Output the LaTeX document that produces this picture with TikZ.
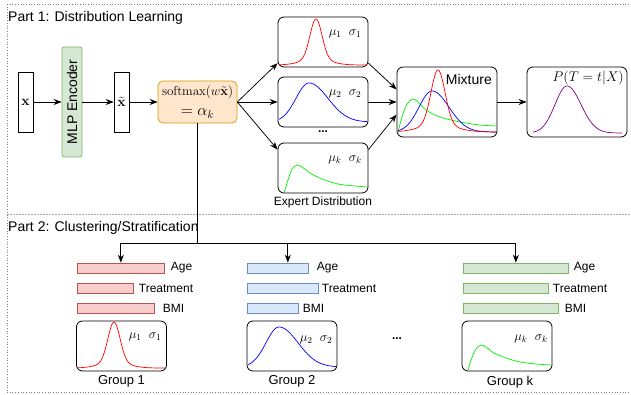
\RequirePackage{fix-cm}
\documentclass[tikz,border=0pt]{standalone}
\usepackage{amsmath}
\usepackage[no-math]{fontspec}
\setmainfont{Liberation Sans}
\usepackage{tikz}
\usetikzlibrary{positioning,arrows.meta}
\usepackage{xcolor}

\definecolor{encfill}{HTML}{D5E8D4}
\definecolor{encline}{HTML}{82B366}
\definecolor{softfill}{HTML}{FFE6CC}
\definecolor{softline}{HTML}{D79B00}
\definecolor{redfill}{HTML}{F8CECC}
\definecolor{redline}{HTML}{B85450}
\definecolor{bluefill}{HTML}{DAE8FC}
\definecolor{blueline}{HTML}{6C8EBF}
\definecolor{cred}{HTML}{FF0000}
\definecolor{cblue}{HTML}{0000FF}
\definecolor{cgreen}{HTML}{00EE00}
\definecolor{cpurple}{HTML}{800080}

\begin{document}
\begin{tikzpicture}[
    x=1pt, y=-1pt,
    vec/.style={draw, line width=0.7pt, minimum width=15pt, minimum height=60pt, inner sep=0pt, font=\fontsize{14}{16}\selectfont},
    dist/.style={draw, line width=0.8pt, rounded corners=6pt, minimum width=90pt, minimum height=50pt, inner sep=0pt},
    bar/.style={draw, line width=0.7pt, minimum height=10pt, inner sep=0pt, anchor=west},
    lbl/.style={inner sep=0pt, font=\fontsize{12}{14}\selectfont},
    big/.style={inner sep=0pt, font=\fontsize{14}{16}\selectfont},
    par/.style={inner sep=0pt, font=\fontsize{13}{15}\selectfont},
    arr/.style={-{Stealth[length=8pt,width=6pt]}, line width=0.75pt},
    curve/.style={line width=0.7pt},
    frame/.style={gray, dotted, line width=0.7pt}
]
    \useasboundingbox (0,0) rectangle (631,395);

    % frame of the two parts
    \draw[frame] (7,4) -- (631,4);
    \draw[frame] (7,4) -- (7,392);
    \draw[frame] (7,392) -- (631,392);
    \draw[gray!70, dash pattern=on 2pt off 1pt, line width=0.7pt] (7,214) -- (631,214);
    \node[big, anchor=west] (part1) at (8,18) {Part 1: Distribution Learning};
    \node[big, anchor=west] (part2) at (8,228) {Part 2: Clustering/Stratification};

    % Part 1: encoder and gate
    \node[vec] (x) at (25.5,102) {$\mathbf{x}$};
    \node[draw=encline, fill=encfill, line width=0.7pt, rounded corners=2pt, minimum width=110pt, minimum height=20pt,
          inner sep=0pt, rotate=90, font=\fontsize{14}{16}\selectfont] (enc) at (72,102) {MLP Encoder};
    \node[vec] (xt) at (121.5,102) {$\tilde{\mathbf{x}}$};
    \node[draw=softline, fill=softfill, line width=0.7pt, rounded corners=5pt, minimum width=79pt, minimum height=42pt,
          inner sep=0pt, align=center, font=\fontsize{16}{20}\selectfont] (soft) at (197.5,102)
          {{\fontsize{13}{15}\selectfont $\mathrm{softmax}(w\tilde{\mathbf{x}})$}\\[0pt]
           $=\alpha_k$};

    \draw[arr] (x) -- (enc);
    \draw[arr] (enc) -- (xt);
    \draw[arr] (xt) -- (soft);

    % experts
    \node[dist] (e1) at (323,42) {};
    \node[dist] (e2) at (323,102) {};
    \node[dist] (e3) at (323,168) {};
    \node[lbl, font=\bfseries\fontsize{12}{14}\selectfont] (edots) at (323,132) {...};
    \node[lbl, below=3pt of e3] (elbl) {Expert Distribution};
    \node[par] (p1) at (345,34) {$\mu_1\ \ \sigma_1$};
    \node[par] (p2) at (345,94) {$\mu_2\ \ \sigma_2$};
    \node[par] (pk) at (345,160) {$\mu_k\ \ \sigma_k$};

    \draw[curve, cred] plot[domain=279:367, samples=90, smooth]
        (\x, {65-40*exp(-((\x-316)^2)/72)-6*exp(-((\x-316)^2)/392)});
    \draw[curve, cblue] plot[domain=279:367, samples=90, smooth]
        (\x, {122-39*exp(-((\x-309)^2)/(2*((\x<309)?13:19)^2))});
    \draw[curve, cgreen] plot[smooth] coordinates {(284,193) (288,180) (292,169) (297,165) (302,167)
        (310,173) (322,179) (338,184) (355,186) (367,187)};

    \draw[arr] (soft.east) -- (e1.205);
    \draw[arr] (soft.east) -- (e2);
    \draw[arr] (soft.east) -- (e3.158);

    % mixture and output
    \node[dist, minimum width=100pt, minimum height=70pt] (mix) at (447,102) {};
    \node[big, anchor=east] (mixl) at (492,79) {Mixture};
    \node[dist, minimum width=100pt, minimum height=70pt] (pt) at (577,102) {};
    \node[inner sep=0pt, anchor=east, font=\fontsize{14}{16}\selectfont] (ptl) at (624,78) {$P(T=t|X)$};

    \draw[curve, cgreen] plot[smooth] coordinates {(398,132) (402,117) (407,104) (413,99) (418,102)
        (426,110) (440,117) (460,122) (480,125) (496,126)};
    \draw[curve, cblue] plot[domain=398:496, samples=90, smooth]
        (\x, {132-41*exp(-((\x-432)^2)/(2*((\x<432)?13:17)^2))});
    \draw[curve, cred] plot[domain=398:496, samples=120, smooth]
        (\x, {132-55*exp(-((\x-438)^2)/98)-7*exp(-((\x-438)^2)/648)});
    \draw[curve, cpurple] plot[domain=533:622, samples=90, smooth]
        (\x, {133-47*exp(-((\x-567)^2)/(2*((\x<567)?12:14)^2))});

    \draw[arr] (e1.-25) -- (mix.166);
    \draw[arr] (e2) -- (mix);
    \draw[arr] (e3.22) -- (mix.194);
    \draw[arr] (mix) -- (pt);

    % Part 2: groups
    \coordinate (split) at (soft.south |- 0,243);
    \draw[line width=0.75pt] (soft) -- (split);

    \node[bar, draw=redline, fill=redfill, minimum width=87pt] (age1) at (77,268) {};
    \node[bar, draw=redline, fill=redfill, minimum width=56pt] (tr1) at (77,288) {};
    \node[bar, draw=redline, fill=redfill, minimum width=77pt] (bmi1) at (77,308) {};
    \node[lbl, right=6pt of age1] (age1l) {Age};
    \node[lbl, right=5pt of tr1] (tr1l) {Treatment};
    \node[lbl, right=8pt of bmi1] (bmi1l) {BMI};

    \node[bar, draw=blueline, fill=bluefill, minimum width=61pt] (age2) at (247,268) {};
    \node[bar, draw=blueline, fill=bluefill, minimum width=71pt] (tr2) at (247,288) {};
    \node[bar, draw=blueline, fill=bluefill, minimum width=51pt] (bmi2) at (247,308) {};
    \node[lbl, right=8pt of age2] (age2l) {Age};
    \node[lbl, right=3pt of tr2] (tr2l) {Treatment};
    \node[lbl, right=4pt of bmi2] (bmi2l) {BMI};

    \node[bar, draw=encline, fill=encfill, minimum width=105pt] (agek) at (463,268) {};
    \node[bar, draw=encline, fill=encfill, minimum width=85pt] (trk) at (463,288) {};
    \node[bar, draw=encline, fill=encfill, minimum width=95pt] (bmik) at (463,308) {};
    \node[lbl, right=5pt of agek] (agekl) {Age};
    \node[lbl, right=4pt of trk] (trkl) {Treatment};
    \node[lbl, right=6pt of bmik] (bmikl) {BMI};

    \draw[arr] (split) -| (age1.north);
    \draw[arr] (split) -| ([xshift=10pt]age2.north);
    \draw[arr] (split) -| (agek.north);

    \node[dist] (g1) at (121.5,346) {};
    \node[dist] (g2) at (292,346) {};
    \node[dist] (gk) at (507,346) {};
    \node[par, below=4pt of g1] (g1l) {Group 1};
    \node[par, below=4pt of g2] (g2l) {Group 2};
    \node[par, below=4pt of gk, xshift=3pt] (gkl) {Group k};
    \node[lbl, font=\bfseries\fontsize{12}{14}\selectfont] (gdots) at (397,339) {...};
    \node[par] (q1) at (145,337) {$\mu_1\ \ \sigma_1$};
    \node[par] (q2) at (316,340) {$\mu_2\ \ \sigma_2$};
    \node[par] (qk) at (531,339) {$\mu_k\ \ \sigma_k$};

    \draw[curve, cred] plot[domain=78:165, samples=90, smooth]
        (\x, {368-40*exp(-((\x-114)^2)/72)-6*exp(-((\x-114)^2)/392)});
    \draw[curve, cblue] plot[domain=248:336, samples=90, smooth]
        (\x, {367-40*exp(-((\x-279)^2)/(2*((\x<279)?13:19)^2))});
    \draw[curve, cgreen] plot[smooth] coordinates {(468,371) (471,360) (476,349) (481,345) (486,347)
        (494,353) (506,358) (520,362) (536,364) (551,365)};
\end{tikzpicture}
\end{document}
